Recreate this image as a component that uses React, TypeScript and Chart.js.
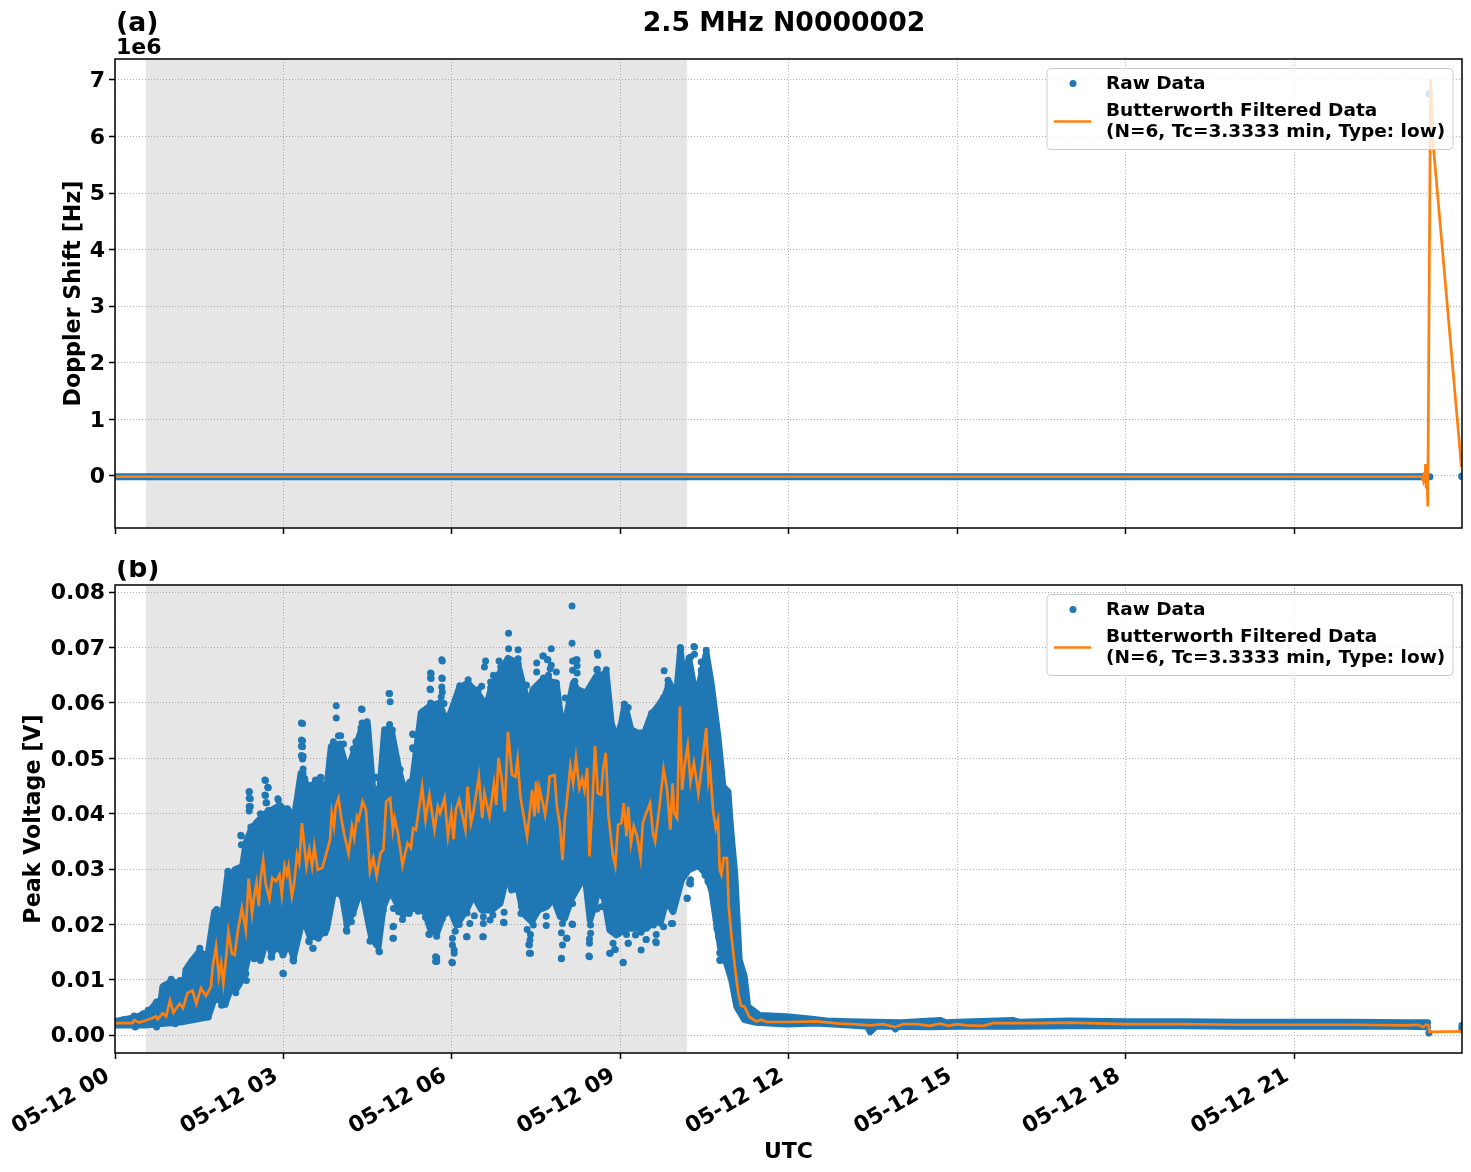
import React, { useEffect, useRef } from 'react';
import { Chart, registerables } from 'chart.js';

Chart.register(...registerables);

const FONT = "'DejaVu Sans'";
const BLUE = '#1f77b4';
const ORANGE = '#ff7f0e';
const MARKER = 3.5;
const LINE = 2.7;

const xTicks = [0, 3, 6, 9, 12, 15, 18, 21];
const xLabels = ['05-12 00', '05-12 03', '05-12 06', '05-12 09', '05-12 12', '05-12 15', '05-12 18', '05-12 21'];
const xMax = 23.99;
const shadeStart = 0.55;
const shadeEnd = 10.19;

const rawLabel = 'Raw Data';
const filteredLabel = ['Butterworth Filtered Data', '(N=6, Tc=3.3333 min, Type: low)'];

// panel (a): Doppler shift
const dopplerTicks = [0, 1e6, 2e6, 3e6, 4e6, 5e6, 6e6, 7e6];
const dopplerBandT = [0, 6, 12, 18, 23.42];
const dopplerBand = [-12000, -12000, -12000, -12000, -12000];
const dopplerDotT = [23.41, 23.99, 23.985];
const dopplerDot = [6.75e6, -12000, 0];
const dopplerFiltT = [0, 6, 12, 18, 23.28, 23.3, 23.32, 23.33, 23.34, 23.35, 23.36, 23.37, 23.38, 23.43, 23.47, 23.98];
const dopplerFilt = [-12000, -12000, -12000, -12000, -12000, -80000, 60000, -120000, 210000, -200000, 190000, -100000, -540000, 7010000, 5940000, 160000];

// panel (b): peak voltage
const voltTicks = [0, 0.01, 0.02, 0.03, 0.04, 0.05, 0.06, 0.07, 0.08];

// upper and lower edge of the solid mass of raw points
const highT = [0, 0.31, 0.49, 0.61, 0.73, 0.82, 0.85, 1.0, 1.12, 1.24, 1.26, 1.38, 1.5, 1.65, 1.71, 1.77, 1.85, 1.92, 2.01, 2.07, 2.13, 2.27, 2.33, 2.42, 2.51, 2.69, 2.9, 3.08, 3.19, 3.25, 3.31, 3.43, 3.58, 3.67, 3.76, 3.85, 4.0, 4.14, 4.29, 4.41, 4.5, 4.59, 4.71, 4.8, 4.92, 5.07, 5.15, 5.3, 5.45, 5.6, 5.78, 5.9, 6.02, 6.13, 6.28, 6.46, 6.61, 6.73, 6.85, 7.0, 7.17, 7.29, 7.38, 7.44, 7.62, 7.86, 7.95, 8.04, 8.16, 8.24, 8.39, 8.57, 8.75, 8.84, 8.93, 9.02, 9.08, 9.19, 9.31, 9.43, 9.55, 9.67, 9.79, 9.88, 9.99, 10.07, 10.14, 10.22, 10.32, 10.41, 10.53, 10.62, 10.68, 10.74, 10.77, 10.83, 10.92, 10.95, 10.99, 11.04, 11.08, 11.12, 11.21, 11.27, 11.48, 11.96, 12.37, 12.67, 13.08, 14, 14.7, 14.8, 15, 16, 16.1, 17, 18, 19, 20, 21, 22, 23, 23.38];
const highV = [0.0025, 0.0031, 0.0037, 0.0043, 0.0058, 0.0064, 0.0088, 0.0097, 0.0094, 0.0097, 0.0118, 0.0136, 0.0151, 0.0142, 0.0184, 0.0223, 0.0214, 0.022, 0.0293, 0.0275, 0.0299, 0.0305, 0.0347, 0.0371, 0.0383, 0.0401, 0.0413, 0.0407, 0.0395, 0.0431, 0.0473, 0.0449, 0.0455, 0.0455, 0.0436, 0.0522, 0.0526, 0.0476, 0.0522, 0.0558, 0.0561, 0.0448, 0.0437, 0.0552, 0.0552, 0.0473, 0.0443, 0.0461, 0.0582, 0.0594, 0.06, 0.0564, 0.0594, 0.0627, 0.0636, 0.0618, 0.0594, 0.0636, 0.0654, 0.0681, 0.0672, 0.0624, 0.0588, 0.0624, 0.0642, 0.0636, 0.0564, 0.0576, 0.0636, 0.0624, 0.0618, 0.0648, 0.0654, 0.0564, 0.0534, 0.0564, 0.0597, 0.0552, 0.0546, 0.0546, 0.0579, 0.0594, 0.0612, 0.0636, 0.0606, 0.0696, 0.0624, 0.0681, 0.0624, 0.0636, 0.069, 0.0636, 0.0588, 0.054, 0.051, 0.0449, 0.044, 0.0395, 0.0347, 0.0293, 0.0214, 0.0136, 0.0106, 0.0052, 0.0036, 0.0034, 0.003, 0.0026, 0.0025, 0.0023, 0.0027, 0.0023, 0.0024, 0.0027, 0.0024, 0.0026, 0.0025, 0.0025, 0.0024, 0.0024, 0.0024, 0.0023, 0.0023];

const lowT = [0, 0.53, 1.19, 1.66, 1.78, 1.96, 2.05, 2.17, 2.29, 2.37, 2.46, 2.61, 2.7, 2.79, 2.88, 3.0, 3.09, 3.18, 3.27, 3.35, 3.47, 3.62, 3.77, 3.89, 4.04, 4.13, 4.24, 4.39, 4.48, 4.57, 4.69, 4.78, 4.9, 5.05, 5.13, 5.25, 5.4, 5.53, 5.61, 5.73, 5.85, 5.97, 6.08, 6.26, 6.38, 6.53, 6.71, 6.86, 7.0, 7.06, 7.18, 7.27, 7.42, 7.54, 7.69, 7.81, 7.93, 8.01, 8.13, 8.25, 8.37, 8.46, 8.55, 8.64, 8.73, 8.81, 8.93, 9.11, 9.29, 9.47, 9.59, 9.71, 9.82, 9.94, 10.09, 10.21, 10.39, 10.54, 10.63, 10.72, 10.8, 10.89, 10.98, 11.07, 11.21, 11.42, 11.96, 12.49, 13.08, 13.4, 13.45, 13.55, 13.85, 13.9, 13.95, 14.5, 15, 16, 17, 18, 19, 20, 21, 22, 23, 23.38];
const lowV = [0.0018, 0.0018, 0.0024, 0.0033, 0.0069, 0.0056, 0.0081, 0.0085, 0.0105, 0.0141, 0.0141, 0.0141, 0.0177, 0.0147, 0.0162, 0.0147, 0.0168, 0.0141, 0.0179, 0.0214, 0.0178, 0.0178, 0.0191, 0.0256, 0.0256, 0.0202, 0.0222, 0.0268, 0.022, 0.0175, 0.016, 0.0232, 0.0262, 0.0232, 0.0217, 0.0226, 0.0232, 0.022, 0.0193, 0.0184, 0.0217, 0.0226, 0.0199, 0.0226, 0.0253, 0.0226, 0.0226, 0.0238, 0.0298, 0.0262, 0.0265, 0.022, 0.0205, 0.0226, 0.0232, 0.0247, 0.0214, 0.0211, 0.0247, 0.0268, 0.0289, 0.0208, 0.0238, 0.028, 0.0238, 0.019, 0.0181, 0.0193, 0.0193, 0.0193, 0.0208, 0.0202, 0.0244, 0.0223, 0.028, 0.0298, 0.0307, 0.0289, 0.0259, 0.0196, 0.0148, 0.013, 0.01, 0.0052, 0.0028, 0.0023, 0.002, 0.0022, 0.0018, 0.0016, 0.0006, 0.0016, 0.0016, 0.0011, 0.0016, 0.0015, 0.0016, 0.0016, 0.0017, 0.0017, 0.0017, 0.0016, 0.0016, 0.0016, 0.0016, 0.0015];

// single points standing clear of the mass, upper side first
const strayT = [
  0.15, 0.34, 0.5, 0.59, 0.74, 0.89, 0.89, 1.0, 1.16, 1.31, 1.41, 1.51, 1.57, 1.75, 1.78, 1.81, 1.81, 1.94, 2.02, 2.04, 2.04, 2.05,
  2.01, 2.24, 2.25, 2.25, 2.39, 2.39, 2.39, 2.39, 2.39, 2.41, 2.41, 2.42, 2.4, 2.55, 2.59, 2.67, 2.67, 2.68, 2.68, 2.69, 2.7, 2.72, 2.73, 2.73, 2.81, 2.9, 2.91, 2.91, 2.95, 3.07,
  3.27, 3.32, 3.32, 3.32, 3.32, 3.34, 3.34, 3.34, 3.34, 3.35, 3.35, 3.35, 3.38, 3.57, 3.59, 3.66, 3.67, 3.67, 3.89, 3.89, 3.94, 3.94, 3.98, 4.02, 4.07, 4.24, 4.24, 4.29, 4.3, 4.38, 4.39, 4.4, 4.4, 4.48, 4.49, 4.49, 4.49, 4.64, 4.65, 4.75, 4.8, 4.88, 4.89, 4.89, 4.89, 4.89, 4.9, 4.94,
  5.08, 5.25, 5.3, 5.3, 5.31, 5.31, 5.37, 5.49, 5.61, 5.62, 5.62, 5.62, 5.62, 5.63, 5.63, 5.81, 5.82, 5.82, 5.82, 5.83, 5.83, 5.83, 5.86, 5.91,
  6.03, 6.14, 6.14, 6.29, 6.29, 6.47, 6.53, 6.58, 6.6, 6.69, 6.69, 6.74, 6.84, 6.86, 6.87, 7.01, 7.01, 7.02, 7.02, 7.15, 7.18, 7.18, 7.18, 7.33, 7.51, 7.51, 7.62, 7.63, 7.63, 7.7, 7.71, 7.72, 7.72, 7.75, 7.77, 7.77, 7.86, 7.86,
  8.02, 8.14, 8.14, 8.15, 8.15, 8.19, 8.21, 8.23, 8.23, 8.23, 8.58, 8.58, 8.59, 8.59, 8.6, 8.7, 8.75, 8.75, 9.07, 9.14, 9.56, 9.66, 9.77, 9.78, 9.85, 9.85, 9.85, 10.07, 10.07, 10.07, 10.07, 10.07, 10.07, 10.23, 10.25, 10.31, 10.32, 10.32, 10.44, 10.44, 10.53, 10.53, 10.53, 10.57,
  0.36, 0.74, 1.07, 1.42, 1.66, 1.81, 1.9, 1.96, 2.15, 2.33, 2.34, 2.48, 2.59, 2.78, 2.79, 2.79, 2.85, 2.99, 2.99, 3.0, 3.15, 3.17, 3.18, 3.18, 3.32, 3.45, 3.46, 3.52, 3.53, 3.53, 3.62, 3.74, 3.95, 4.04, 4.12, 4.13, 4.13, 4.21, 4.24, 4.36, 4.54, 4.55, 4.57, 4.66, 4.67, 4.7, 4.71, 4.78, 4.95, 4.95, 4.96, 4.96, 4.96, 5.05, 5.12, 5.24, 5.4, 5.4, 5.53, 5.59, 5.6, 5.64, 5.71, 5.71, 5.73, 5.73, 5.73, 5.73, 5.83,
  6.0, 6.01, 6.01, 6.01, 6.04, 6.04, 6.06, 6.13, 6.26, 6.27, 6.27, 6.32, 6.4, 6.55, 6.56, 6.56, 6.56, 6.68, 6.73, 6.92, 6.93, 6.93, 7.23, 7.24, 7.34, 7.37, 7.38, 7.38, 7.39, 7.4, 7.4, 7.45, 7.68, 7.68, 7.95, 7.95, 7.95, 7.97, 7.97, 8.04, 8.05, 8.14, 8.15, 8.15, 8.44, 8.45, 8.45, 8.45, 8.47, 8.47, 8.58, 8.66, 8.69, 8.81, 8.82, 8.87, 8.9, 8.91, 9.05, 9.05, 9.11, 9.14, 9.14, 9.27, 9.37, 9.37, 9.46, 9.46, 9.59, 9.63, 9.64, 9.64, 9.77, 9.85, 9.91, 9.93, 10.19, 10.19, 10.23, 10.25, 10.25, 10.51, 10.56, 10.57, 10.67, 10.72, 10.72, 10.75, 10.77, 10.77, 10.78, 10.78, 10.78,
  23.4, 23.99, 23.99, 23.99,
];
const strayV = [
  0.0028, 0.0035, 0.0039, 0.0045, 0.006, 0.009, 0.0075, 0.0101, 0.0099, 0.0123, 0.0137, 0.0157, 0.0141, 0.0187, 0.0202, 0.0227, 0.0214, 0.0205, 0.0294, 0.0279, 0.0265, 0.025,
  0.0296, 0.0361, 0.036, 0.0344, 0.044, 0.0439, 0.0428, 0.0413, 0.0405, 0.0427, 0.0413, 0.0376, 0.0358, 0.0385, 0.04, 0.0461, 0.0434, 0.046, 0.0433, 0.042, 0.042, 0.0448, 0.0447, 0.0406, 0.0406, 0.0427, 0.0425, 0.0413, 0.0414, 0.0409,
  0.0442, 0.0564, 0.0533, 0.0522, 0.0505, 0.0563, 0.0532, 0.0521, 0.0499, 0.0504, 0.0481, 0.0472, 0.0463, 0.0461, 0.046, 0.0466, 0.0465, 0.0445, 0.053, 0.0514, 0.0595, 0.0573, 0.0541, 0.0541, 0.0526, 0.0517, 0.0502, 0.053, 0.053, 0.0555, 0.0589, 0.0588, 0.0564, 0.0521, 0.0566, 0.0555, 0.0543, 0.0465, 0.0466, 0.0465, 0.0528, 0.0617, 0.0617, 0.0561, 0.0538, 0.0514, 0.0602, 0.0551,
  0.048, 0.0457, 0.0544, 0.0519, 0.0543, 0.0517, 0.0508, 0.0585, 0.0625, 0.0654, 0.0645, 0.0624, 0.06, 0.0653, 0.0644, 0.0611, 0.0678, 0.0645, 0.0629, 0.0676, 0.0644, 0.062, 0.0599, 0.0566,
  0.0597, 0.0631, 0.0614, 0.0642, 0.0635, 0.0624, 0.063, 0.0665, 0.0676, 0.0638, 0.0627, 0.065, 0.0676, 0.0644, 0.0665, 0.0726, 0.0698, 0.0677, 0.0665, 0.0665, 0.0696, 0.068, 0.0671, 0.0632, 0.0672, 0.0656, 0.0685, 0.0685, 0.0645, 0.0678, 0.0678, 0.065, 0.0644, 0.0662, 0.0698, 0.0668, 0.0656, 0.0636,
  0.0609, 0.0775, 0.0708, 0.0676, 0.0659, 0.0639, 0.0678, 0.0678, 0.0667, 0.0654, 0.066, 0.0638, 0.069, 0.0661, 0.0686, 0.065, 0.066, 0.0641, 0.0598, 0.0592, 0.0582, 0.0589, 0.061, 0.0658, 0.0641, 0.0632, 0.0616, 0.07, 0.0699, 0.0686, 0.068, 0.0665, 0.065, 0.0665, 0.0683, 0.0702, 0.0701, 0.0688, 0.0674, 0.0659, 0.0695, 0.0686, 0.0665, 0.0644,
  0.0015, 0.0015, 0.0021, 0.003, 0.0033, 0.0069, 0.0054, 0.0056, 0.0077, 0.0111, 0.0099, 0.0138, 0.0135, 0.0142, 0.0141, 0.0152, 0.016, 0.0145, 0.0112, 0.0111, 0.0154, 0.0136, 0.0138, 0.0134, 0.0207, 0.017, 0.0169, 0.0157, 0.0157, 0.0184, 0.0175, 0.0185, 0.0263, 0.0251, 0.019, 0.02, 0.0188, 0.0205, 0.022, 0.025, 0.017, 0.017, 0.0184, 0.0164, 0.0164, 0.0152, 0.0151, 0.0226, 0.0175, 0.0196, 0.0197, 0.0175, 0.0229, 0.0223, 0.0209, 0.022, 0.0241, 0.0224, 0.0213, 0.0183, 0.0182, 0.0196, 0.0133, 0.0142, 0.0191, 0.0179, 0.014, 0.0133, 0.0211,
  0.0132, 0.0131, 0.0163, 0.0175, 0.0154, 0.0148, 0.0188, 0.02, 0.0178, 0.0178, 0.0221, 0.0202, 0.0216, 0.0178, 0.0178, 0.0202, 0.0214, 0.0208, 0.0217, 0.0204, 0.0222, 0.0203, 0.022, 0.0233, 0.0191, 0.0164, 0.0148, 0.0163, 0.0172, 0.0148, 0.0182, 0.0199, 0.0198, 0.0215, 0.0139, 0.0138, 0.0185, 0.0163, 0.0202, 0.0175, 0.0175, 0.0201, 0.02, 0.0238, 0.0143, 0.0142, 0.0166, 0.0174, 0.0184, 0.0199, 0.0228, 0.0232, 0.0251, 0.0148, 0.0148, 0.0166, 0.0155, 0.0155, 0.0132, 0.0131, 0.0182, 0.0166, 0.0166, 0.0181, 0.0154, 0.0186, 0.0173, 0.0173, 0.0199, 0.0169, 0.0167, 0.0182, 0.0196, 0.0238, 0.0202, 0.0202, 0.0248, 0.0247, 0.0275, 0.0273, 0.0281, 0.0289, 0.0278, 0.0277, 0.0245, 0.0193, 0.0221, 0.0178, 0.0136, 0.0149, 0.0163, 0.0148, 0.0135,
  0.0004, 0.0018, 0.0014, 0.001,
];

const filtT = [0, 0.31, 0.34, 0.43, 0.61, 0.73, 0.76, 0.85, 0.91, 0.98, 1.04, 1.15, 1.21, 1.29, 1.38, 1.45, 1.53, 1.62, 1.71, 1.74, 1.8, 1.85, 1.89, 1.93, 1.98, 2.02, 2.08, 2.13, 2.19, 2.26, 2.33, 2.38, 2.44, 2.48, 2.52, 2.56, 2.59, 2.64, 2.68, 2.75, 2.8, 2.87, 2.93, 2.97, 3.02, 3.06, 3.09, 3.15, 3.19, 3.24, 3.28, 3.33, 3.41, 3.46, 3.51, 3.55, 3.61, 3.69, 3.75, 3.83, 3.86, 3.9, 3.93, 3.98, 4.03, 4.09, 4.16, 4.22, 4.26, 4.31, 4.34, 4.41, 4.47, 4.54, 4.6, 4.66, 4.73, 4.78, 4.83, 4.9, 4.95, 4.98, 5.04, 5.12, 5.21, 5.27, 5.31, 5.36, 5.41, 5.47, 5.53, 5.6, 5.69, 5.75, 5.79, 5.87, 5.93, 5.99, 6.03, 6.07, 6.13, 6.24, 6.28, 6.34, 6.38, 6.48, 6.54, 6.58, 6.67, 6.75, 6.79, 6.83, 6.89, 6.94, 7.0, 7.07, 7.13, 7.17, 7.22, 7.34, 7.43, 7.47, 7.5, 7.54, 7.56, 7.62, 7.66, 7.71, 7.74, 7.83, 7.87, 7.92, 7.97, 8.01, 8.05, 8.11, 8.16, 8.21, 8.27, 8.32, 8.36, 8.41, 8.45, 8.5, 8.55, 8.6, 8.66, 8.69, 8.74, 8.79, 8.87, 8.91, 8.96, 9.02, 9.06, 9.11, 9.14, 9.19, 9.24, 9.3, 9.36, 9.4, 9.46, 9.53, 9.58, 9.62, 9.69, 9.77, 9.83, 9.89, 9.93, 9.96, 10.01, 10.06, 10.1, 10.15, 10.2, 10.25, 10.31, 10.39, 10.46, 10.53, 10.57, 10.6, 10.65, 10.7, 10.74, 10.77, 10.8, 10.84, 10.9, 10.93, 10.98, 11.04, 11.1, 11.15, 11.21, 11.3, 11.42, 11.51, 11.6, 12, 12.5, 12.9, 13.15, 13.45, 13.68, 13.89, 14.04, 14.28, 14.51, 14.69, 14.84, 14.99, 15.17, 15.46, 15.64, 16.5, 17, 18, 19, 20, 21, 22, 23, 23.2, 23.3, 23.35, 23.39, 23.41, 23.99];
const filtV = [0.0022, 0.0022, 0.0027, 0.0023, 0.0029, 0.0034, 0.0029, 0.004, 0.0034, 0.0063, 0.0041, 0.0057, 0.0049, 0.0076, 0.0081, 0.0057, 0.0085, 0.0071, 0.0088, 0.0124, 0.016, 0.0106, 0.013, 0.0094, 0.0142, 0.0187, 0.0148, 0.0145, 0.019, 0.023, 0.019, 0.0283, 0.022, 0.0251, 0.0275, 0.0233, 0.0281, 0.0316, 0.0275, 0.0246, 0.0284, 0.0278, 0.029, 0.0254, 0.0306, 0.029, 0.0305, 0.0251, 0.0273, 0.0326, 0.0311, 0.0383, 0.0305, 0.0335, 0.0305, 0.0341, 0.0299, 0.0302, 0.0323, 0.0353, 0.0401, 0.0377, 0.0413, 0.0428, 0.0392, 0.0359, 0.0328, 0.0377, 0.0356, 0.0395, 0.0389, 0.0422, 0.0407, 0.0296, 0.032, 0.0288, 0.0329, 0.0335, 0.0422, 0.0428, 0.0371, 0.0392, 0.0365, 0.0307, 0.0347, 0.0338, 0.0374, 0.0371, 0.0407, 0.0449, 0.0389, 0.0434, 0.0371, 0.0413, 0.0401, 0.0428, 0.0359, 0.0401, 0.0354, 0.0407, 0.0425, 0.0371, 0.0449, 0.0383, 0.0401, 0.0467, 0.0392, 0.0437, 0.0395, 0.0455, 0.0416, 0.0501, 0.0461, 0.0404, 0.0548, 0.047, 0.0467, 0.0498, 0.0431, 0.0359, 0.0443, 0.0395, 0.0458, 0.0401, 0.0446, 0.0419, 0.0398, 0.0434, 0.0467, 0.047, 0.0413, 0.0383, 0.0316, 0.0389, 0.0425, 0.0486, 0.0455, 0.0501, 0.0446, 0.0463, 0.0443, 0.0483, 0.0323, 0.0413, 0.0522, 0.0437, 0.0434, 0.0477, 0.051, 0.0395, 0.0323, 0.0306, 0.038, 0.0383, 0.0419, 0.0359, 0.0413, 0.0347, 0.0377, 0.0359, 0.032, 0.0383, 0.0401, 0.0419, 0.0365, 0.035, 0.0407, 0.0481, 0.0446, 0.0371, 0.0455, 0.0401, 0.0392, 0.0594, 0.0443, 0.0492, 0.0523, 0.0458, 0.0492, 0.0437, 0.0492, 0.0555, 0.0461, 0.048, 0.0407, 0.0374, 0.0389, 0.0299, 0.029, 0.032, 0.032, 0.0233, 0.0178, 0.0124, 0.0076, 0.0053, 0.0052, 0.0033, 0.0025, 0.0028, 0.0024, 0.0024, 0.0025, 0.0021, 0.002, 0.0018, 0.002, 0.0015, 0.002, 0.002, 0.0017, 0.0021, 0.0017, 0.002, 0.0018, 0.0017, 0.0022, 0.0022, 0.0023, 0.002, 0.002, 0.0019, 0.0019, 0.0019, 0.0018, 0.0019, 0.0015, 0.0019, 0.0018, 0.0006, 0.0007];

const pts = (xs: number[], ys: number[]) => xs.map((x, i) => ({ x, y: ys[i] }));
const bold = (size: number) => ({ family: FONT, size, weight: 'bold' as const, lineHeight: 1.2 });

// shading, frame, panel letter and the matplotlib style legend
const panelPlugin = (letter: string, letterY: number, extra?: (ctx: CanvasRenderingContext2D) => void) => ({
  id: 'panel',
  beforeDatasetsDraw(chart: any) {
    const { ctx, chartArea: a, scales } = chart;
    const x0 = scales.x.getPixelForValue(shadeStart);
    const x1 = scales.x.getPixelForValue(shadeEnd);
    ctx.save();
    ctx.fillStyle = 'rgba(128,128,128,0.2)';
    ctx.fillRect(x0, a.top, x1 - x0, a.bottom - a.top);
    ctx.restore();
  },
  afterDraw(chart: any) {
    const { ctx, chartArea: a } = chart;
    ctx.save();
    // legend sits over the data, so the spike shows through it
    const bx = a.right - 415;
    const by = a.top + 9.5;
    ctx.beginPath();
    ctx.roundRect(bx, by, 406, 81, 4);
    ctx.fillStyle = 'rgba(255,255,255,0.8)';
    ctx.fill();
    ctx.strokeStyle = '#cccccc';
    ctx.lineWidth = 1;
    ctx.stroke();
    ctx.fillStyle = BLUE;
    ctx.beginPath();
    ctx.arc(bx + 26, by + 15, MARKER, 0, Math.PI * 2);
    ctx.fill();
    ctx.strokeStyle = ORANGE;
    ctx.lineWidth = LINE;
    ctx.beginPath();
    ctx.moveTo(bx + 7, by + 53);
    ctx.lineTo(bx + 44, by + 53);
    ctx.stroke();
    ctx.fillStyle = '#000';
    ctx.font = `bold 18.5px ${FONT}`;
    ctx.textBaseline = 'alphabetic';
    ctx.textAlign = 'left';
    ctx.fillText(rawLabel, bx + 59, by + 20);
    ctx.fillText(filteredLabel[0], bx + 59, by + 47);
    ctx.fillText(filteredLabel[1], bx + 59, by + 68);
    // frame
    ctx.strokeStyle = '#000';
    ctx.lineWidth = 1.5;
    ctx.strokeRect(a.left, a.top, a.right - a.left, a.bottom - a.top);
    ctx.font = `bold 26.7px ${FONT}`;
    ctx.fillText(letter, 116, letterY);
    if (extra) extra(ctx);
    ctx.restore();
  },
});

const scales = (yMin: number, yMax: number, yTicks: number[], yFmt: (v: number) => string, yTitle: string, yPad: number, showX: boolean, xHeight: number) => ({
  x: {
    type: 'linear' as const,
    min: 0,
    max: xMax,
    afterBuildTicks: (s: any) => { s.ticks = xTicks.map((value) => ({ value })); },
    afterFit: (s: any) => { s.height = xHeight; },
    ticks: {
      display: showX,
      autoSkip: false,
      minRotation: 30,
      maxRotation: 30,
      padding: 4,
      labelOffset: -7,
      color: '#000',
      font: bold(22),
      callback: (v: any) => xLabels[xTicks.indexOf(v)],
    },
    grid: { color: '#b0b0b0', tickColor: '#000', tickLength: 6, tickWidth: 1.5, lineWidth: 1 },
    border: { display: false, dash: [1, 2] },
    title: { display: showX, text: 'UTC', color: '#000', font: bold(22), padding: { top: 0, bottom: 7 } },
  },
  y: {
    type: 'linear' as const,
    min: yMin,
    max: yMax,
    afterBuildTicks: (s: any) => { s.ticks = yTicks.map((value) => ({ value })); },
    afterFit: (s: any) => { s.width = 115; },
    ticks: { padding: 4, labelOffset: 1.5, color: '#000', font: bold(22), callback: (v: any) => yFmt(v) },
    grid: { color: '#b0b0b0', tickColor: '#000', tickLength: 6, tickWidth: 1.5, lineWidth: 1 },
    border: { display: false, dash: [1, 2] },
    title: { display: true, text: yTitle, color: '#000', font: bold(22.2), padding: { top: yPad, bottom: 0 } },
  },
});

const App: React.FC = () => {
  const topRef = useRef<HTMLCanvasElement>(null);
  const bottomRef = useRef<HTMLCanvasElement>(null);

  useEffect(() => {
    if (!topRef.current || !bottomRef.current) return;

    const top = new Chart(topRef.current, {
      type: 'scatter',
      data: {
        datasets: [
          { label: filteredLabel.join(' '), data: pts(dopplerFiltT, dopplerFilt), showLine: true, borderColor: ORANGE, borderWidth: LINE, pointRadius: 0, order: 1, clip: 0 },
          { label: rawLabel, data: pts(dopplerBandT, dopplerBand), showLine: true, borderColor: BLUE, borderWidth: 7, borderCapStyle: 'round', pointRadius: 0, order: 2, clip: 0 },
          { label: rawLabel, data: pts(dopplerDotT, dopplerDot), pointRadius: MARKER, pointBackgroundColor: BLUE, pointBorderWidth: 0, order: 2, clip: 0 },
        ],
      } as any,
      options: {
        animation: false,
        responsive: false,
        devicePixelRatio: 1,
        layout: { padding: { top: 59, right: 9, left: 0, bottom: 0 } },
        plugins: { legend: { display: false }, tooltip: { enabled: false } },
        scales: scales(-0.92e6, 7.37e6, dopplerTicks, (v) => String(v / 1e6), 'Doppler Shift [Hz]', 61, false, 32),
      } as any,
      plugins: [panelPlugin('(a)', 31, (ctx) => {
        ctx.font = `bold 26.7px ${FONT}`;
        ctx.textAlign = 'center';
        ctx.fillText('2.5 MHz N0000002', 784, 31);
        ctx.textAlign = 'left';
        ctx.font = `bold 22px ${FONT}`;
        ctx.fillText('1e6', 116, 54);
      })] as any,
    });

    const bottom = new Chart(bottomRef.current, {
      type: 'scatter',
      data: {
        datasets: [
          { label: filteredLabel.join(' '), data: pts(filtT, filtV), showLine: true, borderColor: ORANGE, borderWidth: LINE, pointRadius: 0, order: 1, clip: 0 },
          { label: rawLabel, data: pts(strayT, strayV), pointRadius: MARKER, pointBackgroundColor: BLUE, pointBorderWidth: 0, order: 2, clip: 0 },
          { label: 'high', data: pts(highT, highV), showLine: true, borderColor: BLUE, borderWidth: 6.6, borderJoinStyle: 'round', borderCapStyle: 'round', backgroundColor: BLUE, pointRadius: 0, fill: '+1', order: 3, clip: 0 },
          { label: 'low', data: pts(lowT, lowV), showLine: true, borderColor: BLUE, borderWidth: 6.6, borderJoinStyle: 'round', borderCapStyle: 'round', pointRadius: 0, order: 3, clip: 0 },
        ],
      } as any,
      options: {
        animation: false,
        responsive: false,
        devicePixelRatio: 1,
        layout: { padding: { top: 25, right: 9, left: 0, bottom: 0 } },
        plugins: { legend: { display: false }, tooltip: { enabled: false } },
        scales: scales(-0.0032, 0.0813, voltTicks, (v) => v.toFixed(2), 'Peak Voltage [V]', 21, true, 119),
      } as any,
      plugins: [panelPlugin('(b)', 17)] as any,
    });

    return () => {
      top.destroy();
      bottom.destroy();
    };
  }, []);

  return (
    <div>
      <canvas ref={topRef} width={1471} height={560} style={{ position: 'absolute', left: 0, top: 0 }} />
      <canvas ref={bottomRef} width={1471} height={612} style={{ position: 'absolute', left: 0, top: 560 }} />
    </div>
  );
};

export default App;
